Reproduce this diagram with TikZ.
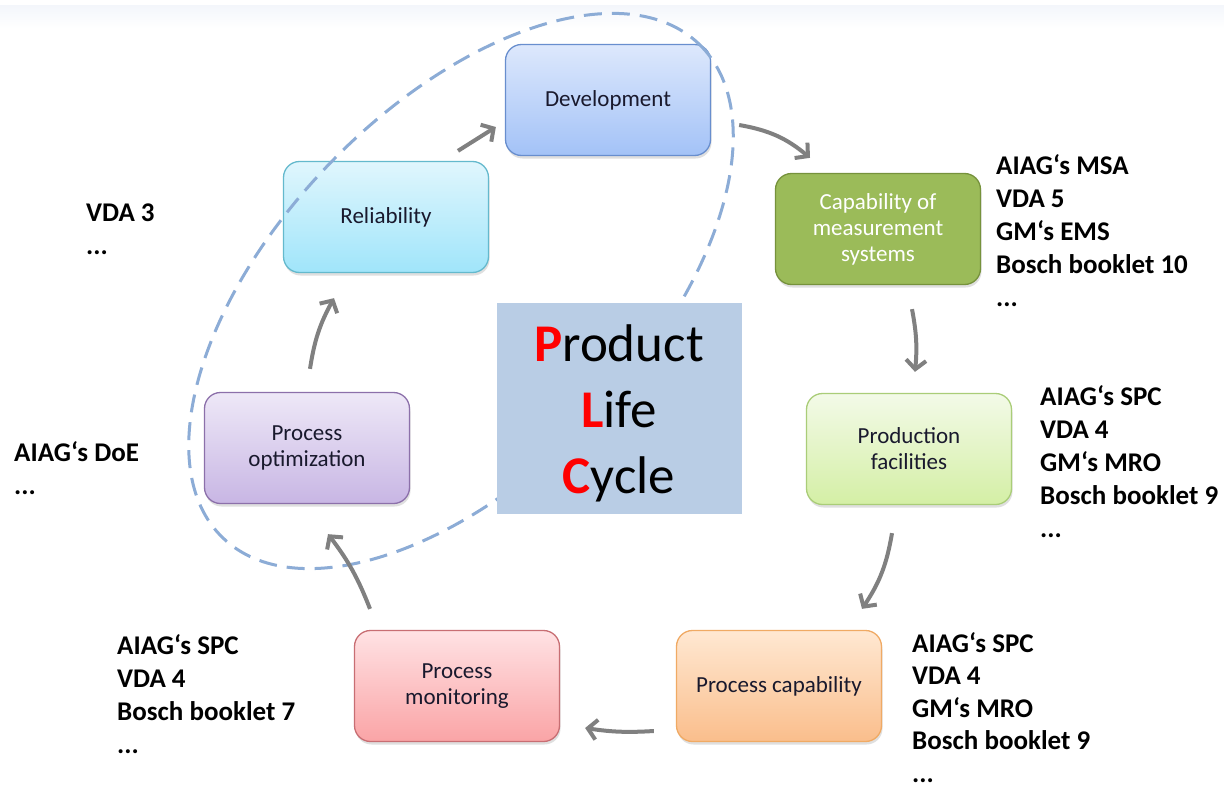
\documentclass[tikz,border=0pt]{standalone}
\usepackage{fontspec}
\setmainfont{Carlito}
\usetikzlibrary{arrows.meta,shadows,calc}

% stage colours: gradient top, gradient bottom, outline
\definecolor{devTop}{RGB}{221,232,252}
\definecolor{devBot}{RGB}{163,194,247}
\definecolor{devLine}{RGB}{104,142,206}
\definecolor{relTop}{RGB}{224,246,253}
\definecolor{relBot}{RGB}{160,229,250}
\definecolor{relLine}{RGB}{100,185,205}
\definecolor{capFill}{RGB}{155,187,89}
\definecolor{capLine}{RGB}{118,146,60}
\definecolor{optTop}{RGB}{238,232,247}
\definecolor{optBot}{RGB}{200,182,228}
\definecolor{optLine}{RGB}{140,112,170}
\definecolor{prodTop}{RGB}{243,250,232}
\definecolor{prodBot}{RGB}{212,239,165}
\definecolor{prodLine}{RGB}{170,205,120}
\definecolor{monTop}{RGB}{255,226,228}
\definecolor{monBot}{RGB}{250,164,166}
\definecolor{monLine}{RGB}{200,110,115}
\definecolor{pcTop}{RGB}{255,232,210}
\definecolor{pcBot}{RGB}{250,190,140}
\definecolor{pcLine}{RGB}{240,170,100}
\definecolor{plcFill}{RGB}{185,205,229}
\definecolor{loopLine}{RGB}{140,172,214}
\definecolor{flowGray}{RGB}{128,128,128}
\definecolor{boxText}{RGB}{25,25,45}
\definecolor{plcRed}{RGB}{255,0,0}
\definecolor{bandTop}{RGB}{243,246,251}

\begin{document}
\begin{tikzpicture}[x=1pt,y=-1pt,
  stage/.style={rounded corners=16pt, minimum width=205pt, minimum height=111pt,
    inner sep=4pt, align=center, font=\fontsize{23}{26}\selectfont, text=boxText,
    line width=1.3pt,
    drop shadow={opacity=0.25, shadow xshift=1pt, shadow yshift=-3pt}},
  refs/.style={inner sep=0pt, anchor=base west,
    font=\bfseries\fontsize{27}{33}\selectfont, text=black},
  flow/.style={draw=flowGray, line width=4pt,
    -{Straight Barb[length=9pt, width=20pt]}},
  loopline/.style={draw=loopLine, line width=3pt, dash pattern=on 18pt off 10pt}
]
\useasboundingbox (0,0) rectangle (1224,787);
\fill[white] (0,0) rectangle (1224,787);
\fill[top color=bandTop, bottom color=white, draw=none] (0,5) rectangle (1224,28);

% the seven stages of the cycle
\node[stage, draw=devLine, top color=devTop, bottom color=devBot] (dev) at (608,100) {Development};
\node[stage, draw=relLine, top color=relTop, bottom color=relBot] (rel) at (386,217) {Reliability};
\node[stage, draw=capLine, fill=capFill, text=white] (cap) at (878,229) {Capability of\\measurement\\systems};
\node[stage, draw=optLine, top color=optTop, bottom color=optBot] (opt) at (307,448) {Process\\optimization};
\node[stage, draw=prodLine, top color=prodTop, bottom color=prodBot] (prod) at (909,449) {Production\\facilities};
\node[stage, draw=monLine, top color=monTop, bottom color=monBot] (mon) at (457,686) {Process\\monitoring};
\node[stage, draw=pcLine, top color=pcTop, bottom color=pcBot] (pcap) at (779,686) {Process capability};

% dashed loop around the early stages
\draw[loopline, rotate around={46:(461,291)}] (461,291) ellipse [x radius=343, y radius=183];

% centre panel
\node[fill=plcFill, minimum width=245pt, minimum height=211pt, inner sep=0pt] (plc) at (619,408) {};
\node[align=center, font=\fontsize{53}{66}\selectfont, inner sep=0pt] (plctext) at ($(plc)+(0,5)$)
  {\textcolor{plcRed}{\bfseries P}roduct\\\textcolor{plcRed}{\bfseries L}ife\\\textcolor{plcRed}{\bfseries C}ycle};

% flow between the stages
\draw[flow] ($(rel.north)+(72,-10)$) to ($(dev.west)+(-9,27)$);
\draw[flow] ($(dev.east)+(28,25)$) to[bend left=15] ($(cap.north)+(-68,-15)$);
\draw[flow] ($(cap.south)+(34,24)$) to[bend left=8] ($(prod.north)+(6,-21)$);
\draw[flow] ($(prod.south)+(-17,28)$) to[bend left=12] ($(pcap.north)+(83,-21)$);
\draw[flow] ($(pcap.west)+(-22,45)$) to[bend left=6] ($(mon.east)+(25,42)$);
\draw[flow] ($(mon.north)+(-87,-21)$) to[bend right=8] ($(opt.south)+(21,30)$);
\draw[flow] ($(opt.north)+(3,-23)$) to[bend left=10] ($(rel.south)+(-52,25)$);

% standards belonging to each stage
\node[refs] (relrefs) at (86,221) {\begin{tabular}[t]{@{}l@{}}VDA 3\\...\end{tabular}};
\node[refs] (caprefs) at (996,174) {\begin{tabular}[t]{@{}l@{}}AIAG‘s MSA\\VDA 5\\GM‘s EMS\\Bosch booklet 10\\...\end{tabular}};
\node[refs] (prodrefs) at (1040,405) {\begin{tabular}[t]{@{}l@{}}AIAG‘s SPC\\VDA 4\\GM‘s MRO\\Bosch booklet 9\\...\end{tabular}};
\node[refs] (optrefs) at (14,461) {\begin{tabular}[t]{@{}l@{}}AIAG‘s DoE\\...\end{tabular}};
\node[refs, font=\bfseries\fontsize{27}{32.5}\selectfont] (pcaprefs) at (912,652) {\begin{tabular}[t]{@{}l@{}}AIAG‘s SPC\\VDA 4\\GM‘s MRO\\Bosch booklet 9\\...\end{tabular}};
\node[refs] (monrefs) at (117,654) {\begin{tabular}[t]{@{}l@{}}AIAG‘s SPC\\VDA 4\\Bosch booklet 7\\...\end{tabular}};
\end{tikzpicture}
\end{document}
